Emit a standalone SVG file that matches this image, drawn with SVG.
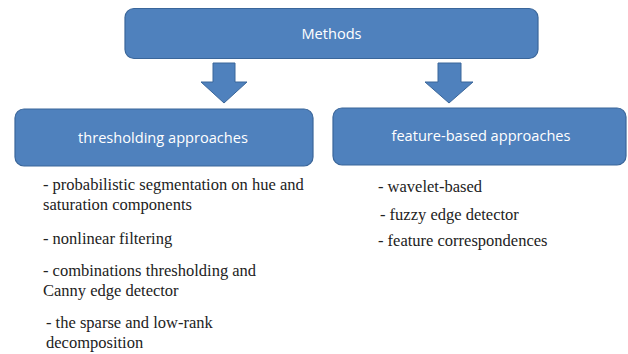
<svg xmlns="http://www.w3.org/2000/svg" width="628" height="354" viewBox="0 0 628 354">
<style>
.box{fill:#4F81BD;stroke:#3A669A;stroke-width:1.2}
.arr{fill:#4F81BD;stroke:#3A669A;stroke-width:1}
.lbl{font-family:"Open Sans","Liberation Sans",sans-serif;font-size:14.6px;fill:#FFFFFF;text-anchor:middle}
.txt{font-family:"Liberation Serif","Times New Roman",serif;font-size:16.5px;fill:#222222}
</style>
<rect width="628" height="354" fill="#FFFFFF"/>
<g id="methods">
<rect class="box" x="125" y="8.5" width="413" height="50" rx="9"/>
<text class="lbl" x="331.5" y="38.5">Methods</text>
</g>
<g id="connectors">
<path class="arr" d="M213,63 L235,63 L235,82 L247,82 L224,103 L201,82 L213,82 Z"/>
<path class="arr" d="M438,63 L461,63 L461,82 L473,82 L449,103 L425,82 L438,82 Z"/>
</g>
<g id="thresholding">
<rect class="box" x="15" y="109" width="298" height="57" rx="9"/>
<text class="lbl" x="163" y="142.5">thresholding approaches</text>
</g>
<g id="feature">
<rect class="box" x="333" y="108" width="293" height="57" rx="9"/>
<text class="lbl" x="481" y="140.5">feature-based approaches</text>
</g>
<g id="thresholding-items">
<text class="txt" x="43" y="190">- probabilistic segmentation on hue and</text>
<text class="txt" x="43" y="210">saturation components</text>
<text class="txt" x="43" y="244">- nonlinear filtering</text>
<text class="txt" x="43" y="276">- combinations thresholding and</text>
<text class="txt" x="43" y="296">Canny edge detector</text>
<text class="txt" x="46" y="328">- the sparse and low-rank</text>
<text class="txt" x="46" y="348">decomposition</text>
</g>
<g id="feature-items">
<text class="txt" x="378" y="192">- wavelet-based</text>
<text class="txt" x="380" y="220">- fuzzy edge detector</text>
<text class="txt" x="378" y="246">- feature correspondences</text>
</g>
</svg>
